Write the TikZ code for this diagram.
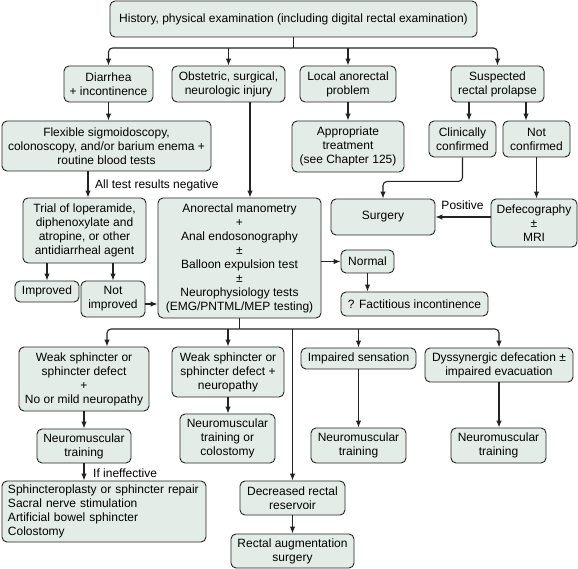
\documentclass[tikz,border=0pt]{standalone}
\usepackage{fontspec}
\setmainfont{Liberation Sans}
\usetikzlibrary{arrows.meta}
\definecolor{boxfill}{RGB}{227,236,230}
\definecolor{edge}{RGB}{35,35,35}
\tikzset{
  box/.style={draw=edge, fill=boxfill, rounded corners=5pt, line width=0.9pt,
    inner sep=0pt, align=center, font=\fontsize{12}{14}\selectfont},
  arr/.style={draw=edge, line width=1.1pt, -{Latex[length=7pt,width=5.5pt]}},
  ln/.style={draw=edge, line width=1.1pt},
  lbl/.style={inner sep=0pt, font=\fontsize{12}{14}\selectfont}
}
\begin{document}
\begin{tikzpicture}[x=1pt,y=-1pt]
\useasboundingbox (0,0) rectangle (578,569);
% boxes
\node[box,minimum width=367,minimum height=36] (top) at (293.5,19) {History, physical examination (including digital rectal examination)};
\node[box,minimum width=89,minimum height=36] (diar) at (108.5,84) {Diarrhea\\+ incontinence};
\node[box,minimum width=113,minimum height=36] (obst) at (228.5,84) {Obstetric, surgical,\\neurologic injury};
\node[box,minimum width=96,minimum height=36] (local) at (348,84) {Local anorectal\\problem};
\node[box,minimum width=93,minimum height=36] (susp) at (497.5,84) {Suspected\\rectal prolapse};
\node[box,minimum width=209,minimum height=50] (flex) at (106.5,146) {Flexible sigmoidoscopy,\\colonoscopy, and/or barium enema +\\routine blood tests};
\node[box,minimum width=112,minimum height=51] (appr) at (348,146.5) {Appropriate\\treatment\\(see Chapter 125)};
\node[box,minimum width=67,minimum height=36] (clin) at (462.5,139) {Clinically\\confirmed};
\node[box,minimum width=67,minimum height=36] (notc) at (536.5,139) {Not\\confirmed};
\node[box,minimum width=123,minimum height=65] (trial) at (84.5,230.5) {Trial of loperamide,\\diphenoxylate and\\atropine, or other\\antidiarrheal agent};
\node[box,minimum width=163,minimum height=120] (anor) at (239.5,258) {Anorectal manometry\\+\\Anal endosonography\\±\\Balloon expulsion test\\±\\Neurophysiology tests\\(EMG/PNTML/MEP testing)};
\node[box,minimum width=104,minimum height=36] (surg) at (383,217) {Surgery};
\node[box,minimum width=86,minimum height=48] (defe) at (534,223) {Defecography\\±\\MRI};
\node[box,minimum width=64,minimum height=21] (impr) at (47,291.5) {Improved};
\node[box,minimum width=64,minimum height=36] (notimp) at (113,299) {Not\\improved};
\node[box,minimum width=53,minimum height=23] (normal) at (367.5,261.5) {Normal};
\node[box,minimum width=147,minimum height=24] (fact) at (414.5,304) {? Factitious incontinence};
\node[box,minimum width=130,minimum height=64] (weak1) at (84,379) {Weak sphincter or\\sphincter defect\\+\\No or mild neuropathy};
\node[box,minimum width=112,minimum height=50] (weak2) at (228,372) {Weak sphincter or\\sphincter defect +\\neuropathy};
\node[box,minimum width=115,minimum height=21] (imps) at (358.5,358.5) {Impaired sensation};
\node[box,minimum width=148,minimum height=34] (dyss) at (499,365) {Dyssynergic defecation ±\\impaired evacuation};
\node[box,minimum width=94,minimum height=34] (nt1) at (84,446) {Neuromuscular\\training};
\node[box,minimum width=95,minimum height=49] (ntc) at (227.5,438.5) {Neuromuscular\\training or\\colostomy};
\node[box,minimum width=95,minimum height=35] (nt3) at (358.5,445.5) {Neuromuscular\\training};
\node[box,minimum width=95,minimum height=35] (nt4) at (498.5,445.5) {Neuromuscular\\training};
\node[box,minimum width=204,minimum height=61,text width=192pt,inner xsep=6pt,align=left] (sph) at (104,511.5) {Sphincteroplasty or sphincter repair\\Sacral nerve stimulation\\Artificial bowel sphincter\\Colostomy};
\node[box,minimum width=105,minimum height=34] (decr) at (292.5,498) {Decreased rectal\\reservoir};
\node[box,minimum width=123,minimum height=34] (raug) at (292.5,551) {Rectal augmentation\\surgery};
% labels
\node[lbl,anchor=west] (lneg) at (95,185) {All test results negative};
\node[lbl] (lpos) at (462.5,205) {Positive};
\node[lbl,anchor=west] (lineff) at (93,473) {If ineffective};
% connectors
\coordinate (j1) at (top.south |- 0,48);
\draw[ln] (top.south) -- (j1);
\draw[arr,rounded corners=4pt] (j1) -| (diar.north);
\draw[arr,rounded corners=4pt] (j1) -| (susp.north);
\draw[arr] (obst.north |- j1) -- (obst.north);
\draw[arr] (local.north |- j1) -- (local.north);
\draw[arr] (diar.south) -- (diar.south |- flex.north);
\draw[arr] ([xshift=3.5pt]trial.north |- flex.south) -- ([xshift=3.5pt]trial.north);
\draw[arr] ([xshift=21.5pt]obst.south) -- ([xshift=21.5pt]obst.south |- anor.north);
\draw[arr] (local.south) -- (appr.north);
\draw[arr] ([xshift=6.5pt]clin.north |- susp.south) -- ([xshift=6.5pt]clin.north);
\draw[arr] ([xshift=-10.5pt]notc.north |- susp.south) -- ([xshift=-10.5pt]notc.north);
\draw[arr,rounded corners=4pt] (clin.south) -- ++(0,24) -| (surg.north);
\draw[arr] (notc.south) -- (notc.south |- defe.north);
\draw[arr] (defe.west |- surg.east) -- (surg.east);
\draw[arr] (impr.north |- trial.south) -- (impr.north);
\draw[arr] (notimp.north |- trial.south) -- (notimp.north);
\draw[arr] ([yshift=-5pt]notimp.east) -- ([yshift=-5pt]notimp.east -| anor.west);
\draw[arr] (anor.east |- normal.west) -- (normal.west);
\draw[arr] (normal.south) -- (normal.south |- fact.north);
\coordinate (j2) at (anor.south |- 0,329);
\draw[ln] (anor.south) -- (j2);
\draw[arr,rounded corners=4pt] (j2) -| ([xshift=23pt]weak1.north);
\draw[arr,rounded corners=4pt] (j2) -| (dyss.north);
\draw[arr] (weak2.north |- j2) -- (weak2.north);
\draw[arr] (imps.north |- j2) -- (imps.north);
\draw[arr] (decr.north |- j2) -- (decr.north);
\draw[arr] (weak1.south) -- (nt1.north);
\draw[arr] (nt1.south) -- (nt1.south |- sph.north);
\draw[arr] (weak2.south) -- (weak2.south |- ntc.north);
\draw[arr] (imps.south) -- (imps.south |- nt3.north);
\draw[arr] (dyss.south) -- (dyss.south |- nt4.north);
\draw[arr] (decr.south) -- (raug.north);
\end{tikzpicture}
\end{document}
